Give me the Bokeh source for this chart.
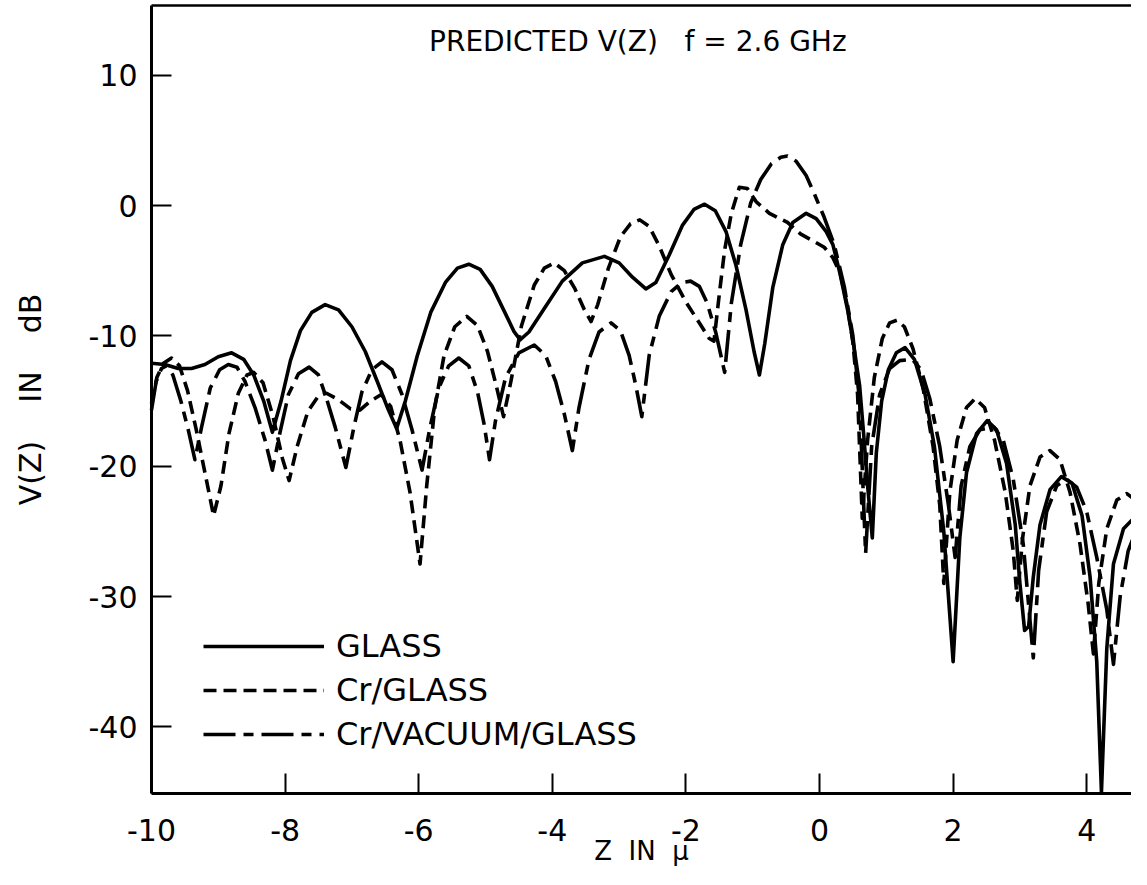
from bokeh.plotting import figure
from bokeh.models import (Range1d, FixedTicker, Legend, LegendItem, Label, LinearAxis)
from bokeh.embed import file_html
from bokeh.resources import INLINE

# ---------------- data ----------------
glass_z = [-10.0, -9.8, -9.6, -9.4, -9.2, -9.0, -8.8, -8.62, -8.47, -8.32, -8.19, -8.06, -7.92, -7.77,
           -7.6, -7.4, -7.2, -7.0, -6.8, -6.62, -6.46, -6.33, -6.2, -6.02, -5.82, -5.6, -5.42, -5.25,
           -5.08, -4.9, -4.72, -4.57, -4.48, -4.35, -4.12, -3.85, -3.55, -3.22, -3.0, -2.8, -2.6, -2.45,
           -2.25, -2.05, -1.88, -1.72, -1.56, -1.4, -1.25, -1.1, -0.98, -0.9, -0.82, -0.7, -0.55, -0.4,
           -0.2, -0.05, 0.1, 0.2, 0.31, 0.42, 0.52, 0.6, 0.66, 0.72, 0.79, 0.85, 0.93, 1.03, 1.15, 1.28,
           1.42, 1.58, 1.72, 1.86, 2.0, 2.1, 2.2, 2.35, 2.51, 2.65, 2.8, 2.93, 3.0, 3.07, 3.13, 3.2, 3.3,
           3.45, 3.62, 3.78, 3.93, 4.05, 4.15, 4.22, 4.3, 4.4, 4.55, 4.72, 4.85]
glass_v = [-12.1, -12.2, -12.5, -12.5, -12.2, -11.6, -11.3, -11.8, -13.0, -15.0, -17.4, -15.0, -11.9, -9.6,
           -8.2, -7.6, -8.0, -9.3, -11.2, -13.5, -15.6, -17.1, -15.0, -11.5, -8.2, -5.9, -4.8, -4.5,
           -4.9, -6.2, -8.1, -9.7, -10.3, -9.7, -7.9, -5.8, -4.4, -3.9, -4.4, -5.5, -6.4, -5.9,
           -3.8, -1.5, -0.3, 0.1, -0.4, -2.0, -4.6, -8.0, -11.2, -13.0, -10.6, -6.3, -3.0, -1.3,
           -0.6, -1.0, -2.0, -3.0, -5.3, -8.0, -11.0, -13.8, -17.5, -21.5, -25.5, -19.0, -15.0, -12.6, -11.3, -10.9,
           -11.8, -14.5, -18.5, -25.0, -35.0, -25.5, -20.5, -17.5, -16.5, -17.2, -19.8, -24.5, -29.0, -32.6, -32.3, -28.5, -24.5,
           -21.8, -20.8, -21.3, -23.8, -28.5, -35.0, -45.0, -34.0, -27.5, -24.8, -23.9, -24.1]

crg_z = [-10.0, -9.92, -9.82, -9.7, -9.58, -9.46, -9.33, -9.18, -9.07, -8.96, -8.84, -8.7, -8.57, -8.47,
         -8.33, -8.18, -8.04, -7.94, -7.82, -7.66, -7.5, -7.38, -7.2, -7.02, -6.88, -6.72, -6.56, -6.42,
         -6.28, -6.13, -5.98, -5.88, -5.76, -5.62, -5.46, -5.28, -5.12, -4.97, -4.84, -4.73, -4.62, -4.46,
         -4.27, -4.12, -3.97, -3.82, -3.66, -3.52, -3.42, -3.32, -3.16, -2.98, -2.83, -2.69, -2.55, -2.4,
         -2.22, -2.0, -1.8, -1.65, -1.58, -1.5, -1.42, -1.32, -1.2, -1.08, -0.95, -0.75, -0.48, -0.28,
         -0.1, 0.07, 0.2, 0.31, 0.42, 0.5, 0.57, 0.64, 0.72, 0.82, 0.94, 1.05, 1.16, 1.27, 1.4, 1.55,
         1.7, 1.8, 1.86, 1.95, 2.06, 2.2, 2.33, 2.47, 2.62, 2.78, 2.9, 2.96, 3.04, 3.15, 3.3, 3.45, 3.6,
         3.75, 3.9, 4.02, 4.1, 4.18, 4.3, 4.45, 4.6, 4.73, 4.85]
crg_v = [-15.2, -13.2, -12.1, -11.7, -12.3, -14.2, -17.2, -21.0, -23.8, -21.5, -17.5, -14.4, -13.0, -12.8,
         -13.6, -16.2, -19.4, -21.1, -18.5, -15.8, -14.6, -14.4, -14.9, -15.6, -15.7, -15.0, -14.5, -15.4,
         -18.0, -22.0, -27.5, -21.5, -15.5, -11.5, -9.3, -8.5, -9.2, -11.2, -13.8, -16.2, -13.5, -9.2,
         -6.1, -4.8, -4.4, -5.0, -6.4, -8.0, -8.9, -7.6, -4.8, -2.4, -1.4, -1.1, -1.6, -3.1,
         -5.3, -7.4, -9.0, -10.2, -10.4, -6.8, -3.4, -0.6, 1.4, 1.3, 0.3, -0.6, -1.3, -2.2,
         -2.7, -3.2, -4.0, -5.2, -7.8, -10.5, -14.5, -24.0, -18.0, -13.2, -10.2, -9.0, -8.8, -9.3, -11.0, -14.0,
         -18.5, -23.0, -29.0, -22.0, -18.0, -15.5, -14.8, -15.5, -18.0, -22.0, -26.5, -30.3, -25.5, -21.5, -19.3, -18.8, -19.5,
         -22.0, -26.0, -30.5, -34.4, -29.0, -24.8, -22.6, -22.1, -22.6, -23.6]

vac_z = [-10.0, -9.93, -9.85, -9.78, -9.68, -9.56, -9.45, -9.35, -9.25, -9.12, -8.98, -8.85, -8.72, -8.6,
         -8.45, -8.3, -8.19, -8.08, -7.95, -7.8, -7.64, -7.5, -7.38, -7.25, -7.09, -6.97, -6.85, -6.7,
         -6.55, -6.4, -6.25, -6.1, -5.95, -5.83, -5.7, -5.55, -5.4, -5.25, -5.12, -5.02, -4.94, -4.85,
         -4.7, -4.5, -4.27, -4.1, -3.95, -3.82, -3.7, -3.6, -3.45, -3.3, -3.12, -2.98, -2.85, -2.75,
         -2.66, -2.55, -2.4, -2.22, -2.06, -1.93, -1.8, -1.68, -1.55, -1.42, -1.32, -1.18, -1.03, -0.88,
         -0.72, -0.58, -0.48, -0.35, -0.2, -0.07, 0.07, 0.22, 0.37, 0.5, 0.6, 0.69, 0.78, 0.9, 1.05,
         1.2, 1.39, 1.52, 1.65, 1.8, 1.93, 2.03, 2.12, 2.25, 2.4, 2.61, 2.75, 2.9, 3.05, 3.2, 3.28,
         3.4, 3.55, 3.7, 3.85, 4.0, 4.15, 4.3, 4.4, 4.5, 4.62, 4.75, 4.85]
vac_v = [-15.7, -13.5, -12.5, -12.3, -13.0, -15.0, -17.2, -19.5, -17.0, -14.0, -12.6, -12.2, -12.4, -13.5,
         -15.5, -18.0, -20.3, -17.5, -14.5, -12.9, -12.4, -13.0, -14.8, -17.0, -20.1, -17.0, -14.3, -12.6,
         -12.0, -12.6, -14.5, -17.2, -20.3, -17.0, -14.0, -12.3, -11.7, -12.3, -14.3, -16.8, -19.5, -16.5,
         -13.2, -11.3, -10.7, -11.5, -13.5, -16.0, -18.8, -15.5, -11.8, -9.7, -9.0, -9.6, -11.5, -13.8,
         -16.2, -11.5, -8.5, -6.6, -5.9, -5.8, -6.2, -7.5, -9.8, -12.8, -7.5, -3.0, 0.2, 2.0,
         3.2, 3.7, 3.8, 3.4, 2.3, 0.8, -0.9, -3.0, -6.2, -10.0, -15.0, -26.7, -18.5, -14.5, -12.5,
         -11.9, -11.8, -12.6, -14.8, -18.5, -23.0, -27.0, -21.5, -18.5, -17.2, -17.0, -18.0, -21.0, -26.0, -34.7, -28.0,
         -23.5, -21.5, -21.0, -21.6, -23.5, -27.0, -31.0, -35.2, -30.0, -26.5, -24.8, -24.4]

series_names = ["GLASS", "Cr/GLASS", "Cr/VACUUM/GLASS"]
x_ticks = [-10, -8, -6, -4, -2, 0, 2, 4]
y_ticks = [10, 0, -10, -20, -30, -40]
x_tick_labels = ["-10", "-8", "-6", "-4", "-2", "0", "2", "4"]
y_tick_labels = ["10", "0", "-10", "-20", "-30", "-40"]
x_axis_left, x_axis_right = -10.0, 4.67
y_axis_bottom, y_axis_top = -45.1, 15.35
NB = "\u00a0"
title_text = "PREDICTED V(Z)" + NB * 2 + " f = 2.6 GHz"
x_title = "Z" + NB * 2 + "IN" + NB * 2 + "\u03bc"
y_title = "V(Z)" + NB * 4 + "IN" + NB * 4 + "dB"

FONT = "DejaVu Sans"

p = figure(width=1131, height=869, output_backend="svg", toolbar_location=None,
           x_range=Range1d(-12.26, 4.67), y_range=Range1d(-50.94, 15.73),
           min_border_left=0, min_border_right=0, min_border_top=0, min_border_bottom=0)
p.outline_line_color = None
p.grid.visible = False
p.background_fill_color = "white"
p.border_fill_color = "white"

for ax in (p.xaxis[0], p.yaxis[0]):
    ax.axis_line_width = 3
    ax.axis_line_color = "black"
    ax.major_tick_in = 20
    ax.major_tick_out = 0
    ax.major_tick_line_width = 2
    ax.major_tick_line_color = "black"
    ax.minor_tick_line_color = None
    ax.major_label_text_font = FONT
    ax.major_label_text_font_size = "30px"
    ax.major_label_text_color = "black"
    ax.axis_label_text_font = FONT
    ax.axis_label_text_font_style = "normal"
    ax.axis_label_text_color = "black"

# axes drawn at the edges of the data area, with their labels outside it
p.xaxis.fixed_location = y_axis_bottom
p.yaxis.fixed_location = x_axis_left
p.xaxis.bounds = (x_axis_left, x_axis_right)
p.yaxis.bounds = (y_axis_bottom, y_axis_top)

p.xaxis.axis_label_text_font_size = "26px"
p.yaxis.axis_label_text_font_size = "30px"
p.xaxis.ticker = FixedTicker(ticks=x_ticks)
p.yaxis.ticker = FixedTicker(ticks=y_ticks)
p.xaxis.major_label_overrides = {t: s for t, s in zip(x_ticks, x_tick_labels)}
p.yaxis.major_label_overrides = {t: s for t, s in zip(y_ticks, y_tick_labels)}
p.xaxis.axis_label = x_title
p.yaxis.axis_label = y_title
p.xaxis.major_label_standoff = 26
p.xaxis.axis_label_standoff = -9
p.yaxis.major_label_standoff = 14
p.yaxis.axis_label_standoff = 38

# top frame line
top_axis = LinearAxis(fixed_location=y_axis_top, bounds=(x_axis_left, x_axis_right),
                      ticker=FixedTicker(ticks=[]), axis_line_width=2.5, axis_line_color="black",
                      major_tick_line_color=None, minor_tick_line_color=None,
                      major_label_text_font_size="0px")
p.add_layout(top_axis, "above")

r1 = p.line(glass_z, glass_v, line_color="black", line_width=3.6, line_join="round")
r2 = p.line(crg_z, crg_v, line_color="black", line_width=3.6, line_join="round", line_dash="13 7")
r3 = p.line(vac_z, vac_v, line_color="black", line_width=3.6, line_join="round", line_dash="32 8 10 8")

legend = Legend(items=[LegendItem(label=series_names[0], renderers=[r1]),
                       LegendItem(label=series_names[1], renderers=[r2]),
                       LegendItem(label=series_names[2], renderers=[r3])],
                location=(203, 113), padding=0, margin=0, spacing=0,
                glyph_width=121, glyph_height=44, label_height=44, label_standoff=12,
                label_text_font=FONT, label_text_font_size="32px", label_text_color="black",
                border_line_color=None, background_fill_alpha=0)
p.add_layout(legend)

p.add_layout(Label(x=-2.72, y=12.6, text=title_text, text_align="center", text_baseline="middle",
                   text_font=FONT, text_font_size="28px", text_color="black"))

open("out.html", "w").write(file_html(p, INLINE))
